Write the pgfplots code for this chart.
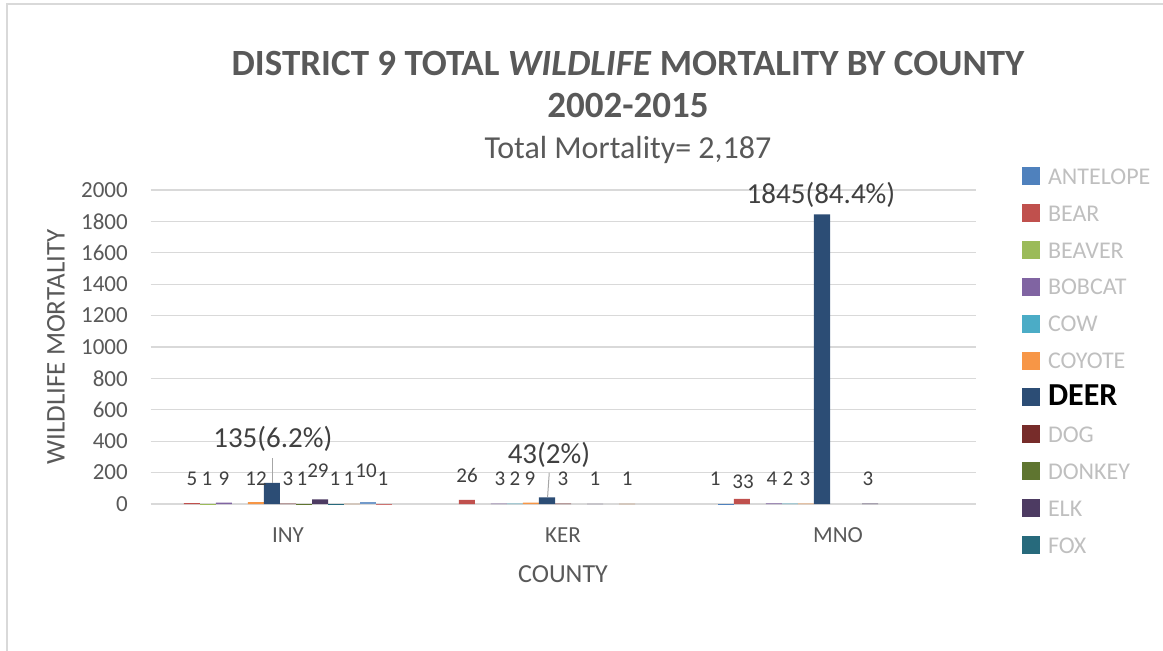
\documentclass[border=0pt]{standalone}
\usepackage{fontspec}
\setmainfont{Carlito}
\usepackage{pgfplots}
\pgfplotsset{compat=1.18}
\definecolor{cAnt}{HTML}{4F81BD}
\definecolor{cBear}{HTML}{C0504D}
\definecolor{cBeav}{HTML}{9BBB59}
\definecolor{cBob}{HTML}{8064A2}
\definecolor{cCow}{HTML}{4BACC6}
\definecolor{cCoy}{HTML}{F79646}
\definecolor{cDeer}{HTML}{2C4D75}
\definecolor{cDog}{HTML}{772C2A}
\definecolor{cDonk}{HTML}{5F7530}
\definecolor{cElk}{HTML}{4D3B62}
\definecolor{cFox}{HTML}{276A7C}
\definecolor{cS11}{HTML}{B65708}
\definecolor{cS12}{HTML}{729ACA}
\definecolor{cS13}{HTML}{CD7371}
\definecolor{gridc}{HTML}{D9D9D9}
\definecolor{txtc}{HTML}{595959}
\definecolor{labc}{HTML}{404040}
\definecolor{legc}{HTML}{BFBFBF}
\begin{document}
\begin{tikzpicture}
\useasboundingbox (0pt,0pt) rectangle (1163pt,-651pt);
\draw[gridc, line width=2pt] (7pt,-660pt) -- (7pt,-4pt) -- (1170pt,-4pt);
% titles
\node[anchor=base, inner sep=0pt, text=txtc, font=\fontsize{37}{37}\selectfont\bfseries] at (628pt,-75pt) {DISTRICT 9 TOTAL \textit{WILDLIFE} MORTALITY BY COUNTY};
\node[anchor=base, inner sep=0pt, text=txtc, font=\fontsize{37}{37}\selectfont\bfseries] at (628pt,-117pt) {2002-2015};
\node[anchor=base, inner sep=0pt, text=txtc, font=\fontsize{32}{32}\selectfont] at (628pt,-158pt) {Total Mortality= 2,187};
\node[anchor=base, inner sep=0pt, text=txtc, font=\fontsize{26}{26}\selectfont] at (563pt,-582pt) {COUNTY};
\node[rotate=90, anchor=center, inner sep=0pt, text=txtc, font=\fontsize{27}{27}\selectfont] at (56pt,-347pt) {WILDLIFE MORTALITY};
\begin{axis}[
  at={(150.5pt,-504pt)}, anchor=south west,
  width=825pt, height=314pt, scale only axis,
  xmin=-0.5, xmax=2.5, ymin=0, ymax=2000,
  xtick={0,1,2}, xticklabels={INY,KER,MNO},
  ytick={0,200,...,2000},
  scaled y ticks=false,
  /pgf/number format/assume math mode=true,
  /pgf/number format/1000 sep={},
  ymajorgrids, grid style={gridc, line width=1.3pt},
  axis line style={draw=none}, tick style={draw=none},
  ticklabel style={text=txtc, font=\fontsize{23}{23}\selectfont, inner sep=0pt},
  yticklabel style={anchor=east, xshift=-22.5pt},
  xticklabel style={anchor=base, yshift=-38pt},
  clip=false,
  legend style={at={(axis description cs:1.0564,1.0732)}, anchor=north west,
    draw=none, fill=none, inner sep=0pt, outer sep=0pt,
    row sep=18.9pt, font=\fontsize{24}{24}\selectfont, text=legc,
    nodes={inner sep=0pt, text height=15.5pt, text depth=0pt},
    /tikz/every odd column/.style={column sep=8pt}},
  legend cell align=left,
  legend image code/.code={\fill[#1] (0pt,-8.5pt) rectangle (18pt,9.5pt);},
]
\addplot[ybar, bar width=0.0582, bar shift=-0.4074, fill=cAnt, draw=none] coordinates {(2,1)};
\addplot[ybar, bar width=0.0582, bar shift=-0.3492, fill=cBear, draw=none] coordinates {(0,5) (1,26) (2,33)};
\addplot[ybar, bar width=0.0582, bar shift=-0.2910, fill=cBeav, draw=none] coordinates {(0,1)};
\addplot[ybar, bar width=0.0582, bar shift=-0.2328, fill=cBob, draw=none] coordinates {(0,9) (1,3) (2,4)};
\addplot[ybar, bar width=0.0582, bar shift=-0.1746, fill=cCow, draw=none] coordinates {(1,2) (2,2)};
\addplot[ybar, bar width=0.0582, bar shift=-0.1164, fill=cCoy, draw=none] coordinates {(0,12) (1,9) (2,3)};
\addplot[ybar, bar width=0.0582, bar shift=-0.0582, fill=cDeer, draw=none] coordinates {(0,135) (1,43) (2,1845)};
\addplot[ybar, bar width=0.0582, bar shift=0, fill=cDog, draw=none] coordinates {(0,3) (1,3)};
\addplot[ybar, bar width=0.0582, bar shift=0.0582, fill=cDonk, draw=none] coordinates {(0,1)};
\addplot[ybar, bar width=0.0582, bar shift=0.1164, fill=cElk, draw=none] coordinates {(0,29) (1,1) (2,3)};
\addplot[ybar, bar width=0.0582, bar shift=0.1746, fill=cFox, draw=none] coordinates {(0,1)};
\addplot[ybar, bar width=0.0582, bar shift=0.2328, fill=cS11, draw=none] coordinates {(0,1) (1,1)};
\addplot[ybar, bar width=0.0582, bar shift=0.2910, fill=cS12, draw=none] coordinates {(0,10)};
\addplot[ybar, bar width=0.0582, bar shift=0.3492, fill=cS13, draw=none] coordinates {(0,1)};
\legend{ANTELOPE,BEAR,BEAVER,BOBCAT,COW,COYOTE,{\textcolor{black}{\fontsize{32}{32}\selectfont\bfseries DEER}},DOG,DONKEY,ELK,FOX}
% data labels
\tikzset{lab/.style={anchor=base, inner sep=0pt, text=labc, font=\fontsize{21}{21}\selectfont},
         big/.style={anchor=base, inner sep=0pt, text=labc, font=\fontsize{29}{29}\selectfont}}
% INY
\node[lab] at (axis cs:-0.349,121) {5};
\node[lab] at (axis cs:-0.295,121) {1};
\node[lab] at (axis cs:-0.233,121) {9};
\node[lab] at (axis cs:-0.116,121) {12};
\node[lab] at (axis cs:0,121) {3};
\node[lab] at (axis cs:0.051,121) {1};
\node[lab] at (axis cs:0.109,172) {29};
\node[lab] at (axis cs:0.171,121) {1};
\node[lab] at (axis cs:0.222,121) {1};
\node[lab] at (axis cs:0.284,172) {10};
\node[lab] at (axis cs:0.345,121) {1};
\node[big] at (axis cs:-0.055,357) {135(6.2\%)};
\draw[gray!70, line width=1pt] (axis cs:-0.055,290) -- (axis cs:-0.055,135);
% KER
\node[lab] at (axis cs:0.651,134) {26};
\node[lab] at (axis cs:0.771,121) {3};
\node[lab] at (axis cs:0.825,121) {2};
\node[lab] at (axis cs:0.880,121) {9};
\node[lab] at (axis cs:1.000,121) {3};
\node[lab] at (axis cs:1.116,121) {1};
\node[lab] at (axis cs:1.233,121) {1};
\node[big] at (axis cs:0.949,261) {43(2\%)};
\draw[gray!70, line width=1pt] (axis cs:0.950,198) -- (axis cs:0.944,45);
% MNO
\node[lab] at (axis cs:1.553,121) {1};
\node[lab] at (axis cs:1.655,96) {33};
\node[lab] at (axis cs:1.760,115) {4};
\node[lab] at (axis cs:1.818,115) {2};
\node[lab] at (axis cs:1.880,115) {3};
\node[lab] at (axis cs:2.109,121) {3};
\node[big] at (axis cs:1.938,1917) {1845(84.4\%)};
\end{axis}
\end{tikzpicture}
\end{document}
